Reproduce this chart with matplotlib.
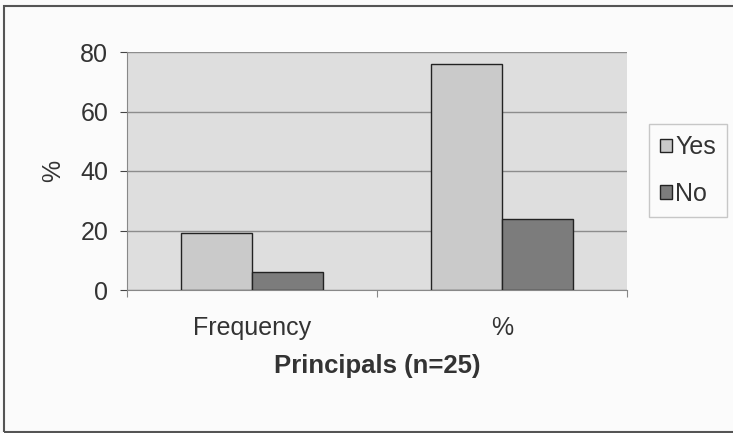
import matplotlib.pyplot as plt
import matplotlib.patches as mpatches
import numpy as np

categories = ['Frequency', '%']
yes_vals = [19, 76]
no_vals = [6, 24]
y_ticks = [0, 20, 40, 60, 80]

plt.rcParams['font.family'] = ['Liberation Sans', 'DejaVu Sans']

fig = plt.figure(figsize=(7.33, 4.33), dpi=100)
fig.patch.set_facecolor('#fbfbfb')

# plot area in pixels: left 127, right 627, top 52, bottom 290
W, H = 733, 433
ax = fig.add_axes([127 / W, 1 - 290 / H, 500 / W, 238 / H])
ax.set_facecolor('#dedede')

x = np.arange(len(categories)) + 0.5
w = 0.285
ax.bar(x - w / 2, yes_vals, width=w, color='#cacaca', edgecolor='#222222', linewidth=1, label='Yes', zorder=3)
ax.bar(x + w / 2, no_vals, width=w, color='#7c7c7c', edgecolor='#222222', linewidth=1, label='No', zorder=3)

ax.set_xlim(0, 2)
ax.set_ylim(0, 80)
ax.set_yticks(y_ticks)
ax.tick_params(axis='y', labelsize=18, colors='#444444', length=5, pad=8.5)
for t in ax.get_yticklabels():
    t.set_color('#333333')
ax.yaxis.grid(True, color='#8c8c8c', linewidth=1, zorder=0)

ax.set_xticks([0, 1, 2])
ax.set_xticklabels([])
ax.set_xticks(x, minor=True)
ax.set_xticklabels(categories, minor=True)
ax.tick_params(axis='x', which='major', length=5, color='#888888')
ax.tick_params(axis='x', which='minor', length=0, labelsize=18, colors='#333333', pad=19)

for s in ['top', 'right']:
    ax.spines[s].set_visible(False)
ax.spines['left'].set_color('#888888')
ax.spines['bottom'].set_color('#888888')

ax.set_ylabel('%', fontsize=18, color='#333333', labelpad=11)
ax.set_xlabel('Principals (n=25)', fontsize=18.5, fontweight='bold', color='#333333', labelpad=10)

leg = fig.legend(*ax.get_legend_handles_labels(), loc='upper left',
                 bbox_to_anchor=(649 / W, 1 - 124 / H), fontsize=18, frameon=True,
                 fancybox=False, edgecolor='#bbbbbb', handlelength=0.45, handleheight=0.45,
                 handletextpad=0.15, borderpad=0.45, labelspacing=0.9, borderaxespad=0)
leg.get_frame().set_facecolor('#fbfbfb')
for t in leg.get_texts():
    t.set_color('#333333')

# chart border (right side is cut off in the scan)
fig.patches.append(mpatches.Rectangle((4 / W, 1 / H), 740 / W, 426 / H, transform=fig.transFigure,
                                      fill=False, edgecolor='#555555', linewidth=1.5))

fig.savefig('out.png', dpi=100)
